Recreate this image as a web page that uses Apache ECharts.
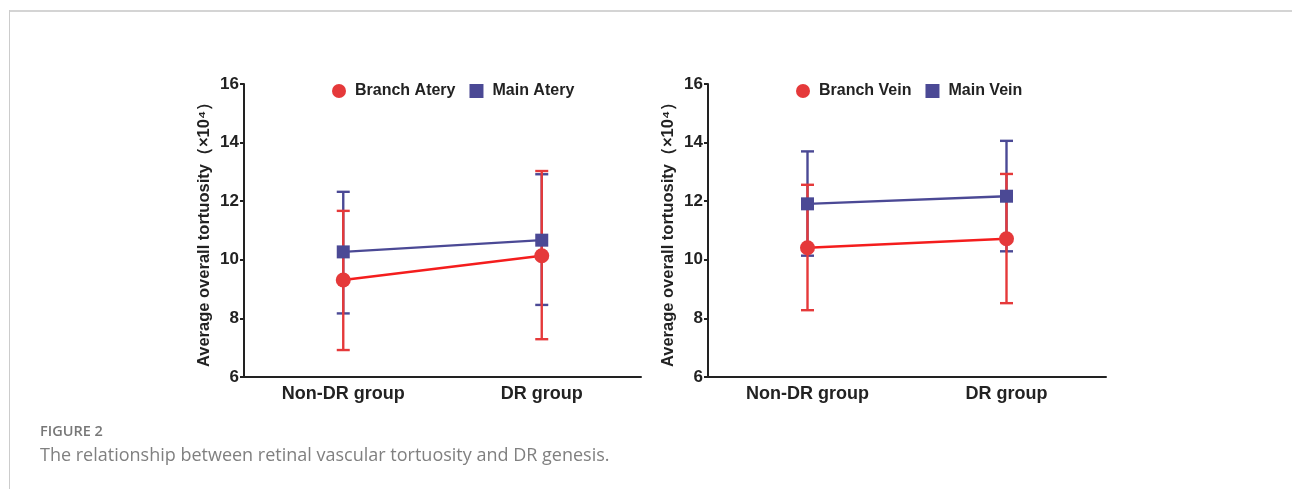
<!DOCTYPE html>
<html>
<head>
<meta charset="utf-8">
<script src="https://cdn.jsdelivr.net/npm/echarts@6/dist/echarts.min.js"></script>
<style>
html,body{margin:0;padding:0;background:#fff;}
#chart{width:1292px;height:489px;}
</style>
</head>
<body>
<div id="chart"></div>
<script>
// ---- data ----
const categories = ['Non-DR group', 'DR group'];
const yTicks = [6, 8, 10, 12, 14, 16];

const branchArteryMean = [9.31, 10.14];
const branchArteryLow  = [6.92, 7.29];
const branchArteryHigh = [11.67, 13.03];
const mainArteryMean   = [10.27, 10.67];
const mainArteryLow    = [8.17, 8.46];
const mainArteryHigh   = [12.32, 12.92];

const branchVeinMean = [10.41, 10.72];
const branchVeinLow  = [8.28, 8.52];
const branchVeinHigh = [12.56, 12.93];
const mainVeinMean   = [11.91, 12.17];
const mainVeinLow    = [10.14, 10.29];
const mainVeinHigh   = [13.70, 14.06];

const legendLeft  = ['Branch Atery', 'Main Atery'];
const legendRight = ['Branch Vein', 'Main Vein'];
const yName = 'Average overall tortuosity（×10⁴）';
const captionTitle = 'FIGURE 2';
const captionText = 'The relationship between retinal vascular tortuosity and DR genesis.';

// ---- styles ----
const RED = '#e5393a';
const RED_LINE = '#f41d1d';
const BLUE = '#4b4995';
const AXIS = '#222222';
const FONT = '"Liberation Sans", Arial, sans-serif';

function errData(low, high) {
  return low.map((l, i) => [i, l, high[i]]);
}
function errSeries(name, low, high, color, idx) {
  return {
    type: 'custom', name: name + '_err', xAxisIndex: idx, yAxisIndex: idx,
    silent: true, z: color === RED ? 3 : 2,
    data: errData(low, high),
    encode: { x: 0, y: [1, 2] },
    renderItem: function (params, api) {
      const x = api.value(0);
      const top = api.coord([x, api.value(2)]);
      const bot = api.coord([x, api.value(1)]);
      const hw = 6.5;
      const st = { stroke: color, lineWidth: 2.4 };
      return {
        type: 'group',
        children: [
          { type: 'line', shape: { x1: top[0], y1: top[1], x2: bot[0], y2: bot[1] }, style: st },
          { type: 'line', shape: { x1: top[0] - hw, y1: top[1], x2: top[0] + hw, y2: top[1] }, style: st },
          { type: 'line', shape: { x1: bot[0] - hw, y1: bot[1], x2: bot[0] + hw, y2: bot[1] }, style: st }
        ]
      };
    }
  };
}
function meanSeries(name, data, color, lineColor, symbol, idx) {
  return {
    type: 'line', name: name, xAxisIndex: idx, yAxisIndex: idx,
    data: data, symbol: symbol, symbolSize: symbol === 'circle' ? 15 : 13,
    z: color === RED ? 5 : 4,
    itemStyle: { color: color },
    lineStyle: { color: lineColor, width: 2.4 },
    emphasis: { disabled: true }, animation: false
  };
}
function xAxisCfg(idx) {
  return {
    type: 'category', gridIndex: idx, data: categories, boundaryGap: true,
    axisLine: { lineStyle: { color: AXIS, width: 2 } },
    axisTick: { show: false },
    axisLabel: { color: AXIS, fontFamily: FONT, fontWeight: 'bold', fontSize: 18, margin: 8 }
  };
}
function yAxisCfg(idx) {
  return {
    type: 'value', gridIndex: idx, min: yTicks[0], max: yTicks[yTicks.length - 1], interval: 2,
    name: yName, nameLocation: 'middle', nameGap: 31, nameRotate: 90,
    nameTextStyle: { color: AXIS, fontFamily: FONT, fontWeight: 'bold', fontSize: 16.5 },
    axisLine: { show: true, lineStyle: { color: AXIS, width: 2 } },
    axisTick: { show: true, length: 4, lineStyle: { color: AXIS, width: 2 } },
    axisLabel: { color: AXIS, fontFamily: FONT, fontWeight: 'bold', fontSize: 17, margin: 5 },
    splitLine: { show: false }
  };
}
function legendCfg(names, left) {
  return {
    left: left, top: 78, itemWidth: 14, itemHeight: 14, itemGap: 14,
    selectedMode: false,
    data: [{ name: names[0], icon: 'circle' }, { name: names[1], icon: 'rect' }],
    textStyle: { color: AXIS, fontFamily: FONT, fontWeight: 'bold', fontSize: 16, padding: [0, 0, 0, 4] }
  };
}

const chart = echarts.init(document.getElementById('chart'), null, { renderer: 'canvas' });
chart.setOption({
  animation: false,
  backgroundColor: '#ffffff',
  grid: [
    { left: 244, right: 1292 - 641, top: 84, bottom: 489 - 377 },
    { left: 708, right: 1292 - 1106, top: 84, bottom: 489 - 377 }
  ],
  legend: [legendCfg(legendLeft, 327), legendCfg(legendRight, 791)],
  xAxis: [xAxisCfg(0), xAxisCfg(1)],
  yAxis: [yAxisCfg(0), yAxisCfg(1)],
  series: [
    errSeries(legendLeft[1], mainArteryLow, mainArteryHigh, BLUE, 0),
    errSeries(legendLeft[0], branchArteryLow, branchArteryHigh, RED, 0),
    meanSeries(legendLeft[1], mainArteryMean, BLUE, BLUE, 'rect', 0),
    meanSeries(legendLeft[0], branchArteryMean, RED, RED_LINE, 'circle', 0),
    errSeries(legendRight[1], mainVeinLow, mainVeinHigh, BLUE, 1),
    errSeries(legendRight[0], branchVeinLow, branchVeinHigh, RED, 1),
    meanSeries(legendRight[1], mainVeinMean, BLUE, BLUE, 'rect', 1),
    meanSeries(legendRight[0], branchVeinMean, RED, RED_LINE, 'circle', 1)
  ],
  graphic: [
    { type: 'rect', shape: { x: 9, y: 10, width: 1292, height: 2 }, style: { fill: '#d4d4d4' }, silent: true },
    { type: 'rect', shape: { x: 9, y: 10, width: 1, height: 479 }, style: { fill: '#cccccc' }, silent: true },
    { type: 'text', x: 40, y: 432, style: { text: captionTitle, fill: '#777777', font: '600 14.5px "Open Sans", Lato, sans-serif', textVerticalAlign: 'middle' }, silent: true },
    { type: 'text', x: 40, y: 456, style: { text: captionText, fill: '#808080', font: '18px "Open Sans", Lato, sans-serif', textVerticalAlign: 'middle' }, silent: true }
  ]
});
</script>
</body>
</html>
